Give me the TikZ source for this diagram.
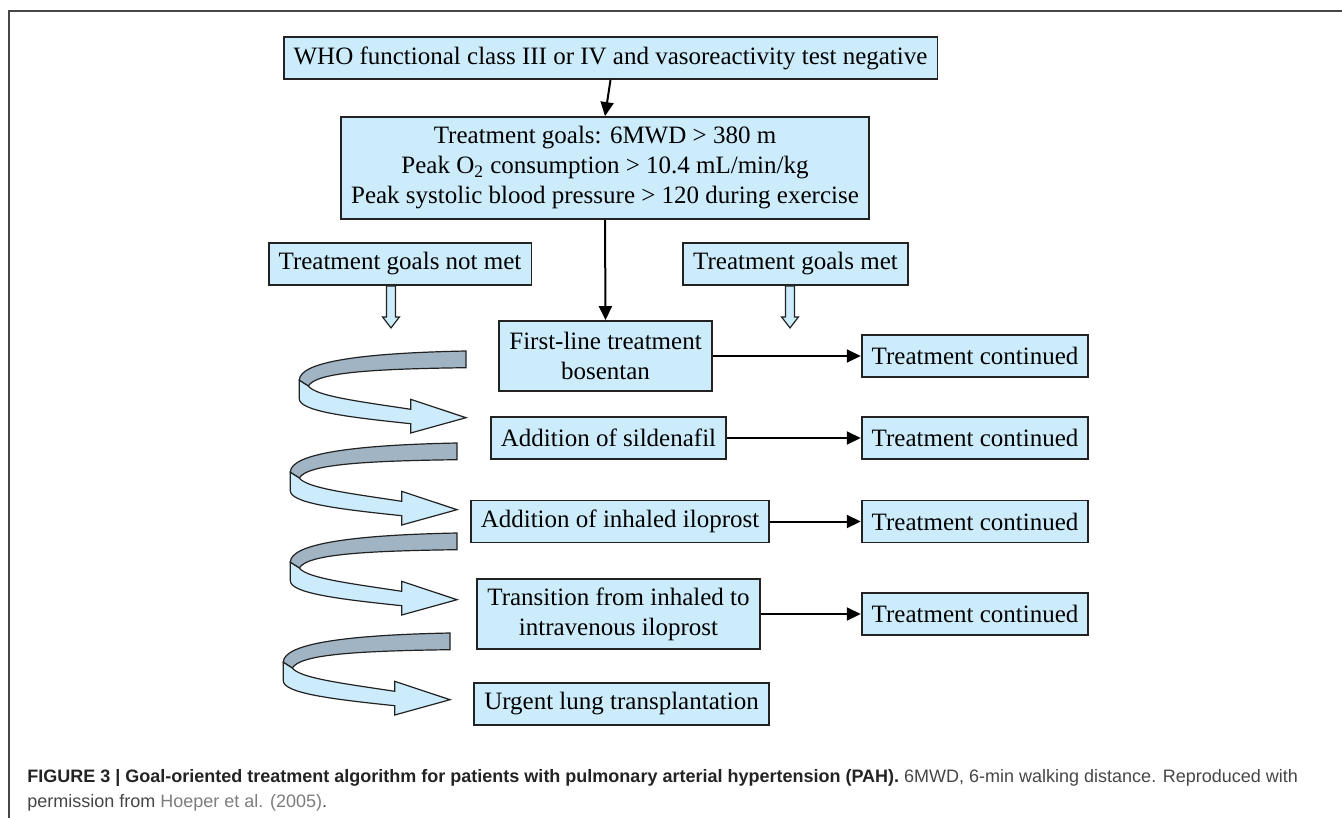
\documentclass[tikz,border=0pt]{standalone}
\usepackage{fontspec}
\setmainfont{Liberation Serif}
\newfontfamily\capsans{Liberation Sans}
\usepackage{tikz}
\usetikzlibrary{arrows.meta}

\definecolor{boxblue}{RGB}{204,236,252}
\definecolor{bandgrey}{RGB}{160,180,196}
\definecolor{boxedge}{RGB}{34,34,34}
\definecolor{framegrey}{RGB}{70,70,70}
\definecolor{capdark}{RGB}{35,35,35}
\definecolor{capmid}{RGB}{70,70,70}
\definecolor{caplink}{RGB}{125,125,125}

\tikzset{
  stepbox/.style={draw=boxedge, fill=boxblue, line width=0.9pt, align=center,
    inner xsep=5pt, inner ysep=4pt, minimum height=21pt,
    font=\fontsize{12.5}{15}\selectfont},
  link/.style={line width=1pt, -{Triangle[length=7pt,width=6.5pt]}},
  ribbon/.style={draw=boxedge, line width=0.6pt},
  captext/.style={inner sep=0pt, text=capmid, font=\capsans\fontsize{9}{11}\selectfont},
  pics/blockdown/.style={code={
    \draw[ribbon, fill=boxblue] (-4.5,0) -- (-4.5,31) -- (-8.5,31) -- (0,42)
      -- (8.5,31) -- (4.5,31) -- (4.5,0) -- cycle;
  }},
  pics/twist/.style={code={
    % back of the band
    \draw[ribbon, fill=bandgrey] (0,0) -- (0,16.7)
      .. controls (-100,18) and (-150,22) .. (-157.7,35) -- (-166.7,29.3)
      .. controls (-166.7,10) and (-100,2) .. (0,0) -- cycle;
    % front of the band, with its head
    \draw[ribbon, fill=boxblue] (-166.7,29.3) -- (-166.7,47.7)
      .. controls (-166.7,60) and (-120,66) .. (-55.3,72.7)
      -- (-55.3,82) -- (0,66.7) -- (-55.3,48.3) -- (-55.3,58.3)
      .. controls (-110,50) and (-150,45) .. (-157.7,35) -- cycle;
  }}
}

\begin{document}
\begin{tikzpicture}[x=0.5pt, y=-0.5pt]

\useasboundingbox (0,0) rectangle (1342,818);
\draw[framegrey, line width=1pt] (9,818) -- (9,11) -- (1342,11);

% main column
\node[stepbox] (who) at (610.5,58) {WHO functional class III or IV and vasoreactivity test negative};
\node[stepbox, minimum height=51pt] (goals) at (605,168) {Treatment goals: 6MWD > 380 m\\
  Peak O\textsubscript{2} consumption > 10.4 mL/min/kg\\
  Peak systolic blood pressure > 120 during exercise};
\node[stepbox] (notmet) at (400,264) {Treatment goals not met};
\node[stepbox] (met) at (795.5,264) {Treatment goals met};

\node[stepbox, minimum height=35pt] (first) at (605.5,356) {First-line treatment\\ bosentan};
\node[stepbox] (sild) at (608.5,438) {Addition of sildenafil};
\node[stepbox] (ilo) at (620,521.5) {Addition of inhaled iloprost};
\node[stepbox, minimum height=35pt] (trans) at (618.5,614) {Transition from inhaled to\\ intravenous iloprost};
\node[stepbox] (urgent) at (621.5,704) {Urgent lung transplantation};

% right column
\foreach \y [count=\i] in {356,438,521.5,614}
  \node[stepbox] (cont\i) at (975,\y) {Treatment continued};

\draw[link] (who.south) -- (goals.north);
\draw[link] (goals.south) -- (first.north);
\foreach \a/\b in {first/cont1, sild/cont2, ilo/cont3, trans/cont4}
  \draw[link] (\a.east) -- (\b.west);

\pic at ([xshift=-4.5pt]notmet.south) {blockdown};
\pic at ([xshift=-2.75pt]met.south) {blockdown};

% twisted arrows on the left
\foreach \x/\y in {466/351, 457/443, 457/533, 450/633}
  \pic at (\x,\y) {twist};

% caption
\node[captext, anchor=base west] (capA) at (27,782) {{\bfseries\color{capdark}FIGURE 3 | Goal-oriented treatment algorithm for patients with pulmonary arterial hypertension (PAH).} 6MWD, 6-min walking distance. Reproduced with};
\node[captext, anchor=base west] (capB) at (27,807) {permission from {\color{caplink}Hoeper et al. (2005)}.};

\end{tikzpicture}
\end{document}
